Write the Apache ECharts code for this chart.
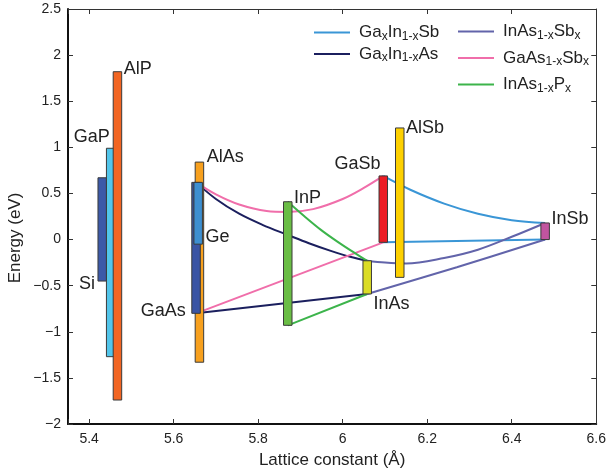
<!DOCTYPE html>
<html>
<head>
<meta charset="utf-8">
<script src="https://cdn.jsdelivr.net/npm/echarts@6/dist/echarts.min.js"></script>
<style>
html,body{margin:0;padding:0;background:#fff;}
#chart{width:609px;height:474px;}
</style>
</head>
<body>
<div id="chart"></div>
<script>
// band edges of the binary compounds (eV) vs lattice constant (A)
var materials = ['Si','GaP','AlP','AlAs','GaAs','Ge','InP','InAs','GaSb','AlSb','InSb'];
var lattice   = [5.431, 5.451, 5.467, 5.661, 5.653, 5.658, 5.870, 6.058, 6.096, 6.135, 6.479];
var vbEdge    = [-0.45, -1.27, -1.74, -1.33, -0.80, -0.05, -0.93, -0.59, -0.03, -0.41, 0.00];
var cbEdge    = [0.67, 0.99, 1.82, 0.84, 0.62, 0.62, 0.41, -0.23, 0.69, 1.21, 0.18];

// alloy lines [lattice, energy]
var gaInSbTop = [[6.096,0.69],[6.16,0.54],[6.24,0.39],[6.32,0.28],[6.40,0.21],[6.479,0.18]];
var gaInSbBot = [[6.096,-0.03],[6.479,0.00]];
var gaInAsTop = [[5.653,0.62],[5.70,0.44],[5.755,0.28],[5.81,0.16],[5.87,0.05],[5.92,-0.04],[5.97,-0.12],[6.02,-0.19],[6.058,-0.23]];
var gaInAsBot = [[5.653,-0.80],[6.058,-0.59]];
var inAsSbTop = [[6.058,-0.23],[6.10,-0.25],[6.15,-0.26],[6.24,-0.20],[6.32,-0.11],[6.40,0.03],[6.479,0.18]];
var inAsSbBot = [[6.058,-0.59],[6.27,-0.30],[6.479,0.00]];
var gaAsSbTop = [[5.653,0.62],[5.70,0.49],[5.755,0.38],[5.82,0.31],[5.87,0.30],[5.93,0.33],[6.00,0.44],[6.05,0.56],[6.096,0.69]];
var gaAsSbBot = [[5.653,-0.80],[6.096,-0.03]];
var inAsPTop  = [[5.870,0.41],[5.91,0.25],[5.95,0.10],[5.99,-0.03],[6.03,-0.15],[6.058,-0.23]];
var inAsPBot  = [[5.870,-0.93],[6.058,-0.59]];

var yTicks = [-2, -1.5, -1, -0.5, 0, 0.5, 1, 1.5, 2, 2.5];

// styles
var barColors = {Si:'#3c59a8', GaP:'#52c5ea', AlP:'#f26522', AlAs:'#f7a01e', GaAs:'#3a54a4', Ge:'#3d8fd1',
  InP:'#6abd45', InAs:'#dbdc25', GaSb:'#ec1c24', AlSb:'#fdd000', InSb:'#c1549f'};
// label placement: [anchor edge, side, dx, dy, align, verticalAlign]
var labelPos = {
  Si:   ['bot', 'left', -3, 3, 'right', 'middle'],
  GaP:  ['top', 'center', -1, -2, 'right', 'bottom'],
  AlP:  ['top', 'right', 2, -3, 'left', 'middle'],
  AlAs: ['top', 'right', 3, -5, 'left', 'middle'],
  GaAs: ['bot', 'left', -6, -2, 'right', 'middle'],
  Ge:   ['bot', 'right', 3, -7, 'left', 'middle'],
  InP:  ['top', 'right', 2, -4, 'left', 'middle'],
  InAs: ['bot', 'right', 2, 10, 'left', 'middle'],
  GaSb: ['top', 'left', 1.5, -3, 'right', 'bottom'],
  AlSb: ['top', 'right', 2, 0, 'left', 'middle'],
  InSb: ['top', 'right', 2, -4, 'left', 'middle']
};
var FONT = 'Liberation Sans, Arial, Helvetica, sans-serif';

var chart = echarts.init(document.getElementById('chart'));

var barData = materials.map(function(m, i){ return [lattice[i], vbEdge[i], cbEdge[i], m]; });

function renderBar(params, api){
  var name = materials[params.dataIndex];
  var x = api.value(0);
  var pTop = api.coord([x, api.value(2)]);
  var pBot = api.coord([x, api.value(1)]);
  var w = 8.5;
  var left = pTop[0] - w/2, right = pTop[0] + w/2;
  var lp = labelPos[name];
  var ax = lp[1] === 'left' ? left : (lp[1] === 'right' ? right : pTop[0]);
  var ay = lp[0] === 'top' ? pTop[1] : pBot[1];
  return {
    type: 'group',
    children: [
      {type:'rect', shape:{x:left, y:pTop[1], width:w, height:pBot[1]-pTop[1]},
       style:{fill:barColors[name], stroke:'#3a3a3a', lineWidth:1}},
      {type:'text', x: ax + lp[2], y: ay + lp[3],
       style:{text:name, fill:'#222', font:'18px ' + FONT, align:lp[4], verticalAlign:lp[5]}}
    ]
  };
}

function lineSeries(name, color, data, smooth){
  return {name:name, type:'line', data:data, symbol:'none', smooth:smooth ? 0.35 : false,
    color: color, lineStyle:{color:color, width:2}, z:2, silent:true};
}

var names = {
  GaInSb:'{p|}{n|Ga}{s|x}{n|In}{s|1-x}{n|Sb}',
  GaInAs:'{p|}{n|Ga}{s|x}{n|In}{s|1-x}{n|As}',
  InAsSb:'{p|}{n|InAs}{s|1-x}{n|Sb}{s|x}',
  GaAsSb:'{p|}{n|GaAs}{s|1-x}{n|Sb}{s|x}',
  InAsP:'{p|}{n|InAs}{s|1-x}{n|P}{s|x}'
};
var legendText = {
  color:'#222',
  rich:{
    p:{width:4, lineHeight:20},
    n:{fontSize:17, lineHeight:20, fontFamily:FONT, color:'#222'},
    s:{fontSize:12, lineHeight:12, fontFamily:FONT, color:'#222', verticalAlign:'bottom'}
  }
};

option = {
  animation:false,
  backgroundColor:'#fff',
  grid:{left:68, right:11, top:9, bottom:47},
  legend:[
    {data:['GaInSb','GaInAs'], orient:'vertical', left:314, top:24, itemGap:3,
     icon:'rect', itemWidth:36, itemHeight:2, padding:0,
     formatter:function(n){ return names[n]; }, textStyle:legendText},
    {data:['InAsSb','GaAsSb','InAsP'], orient:'vertical', left:458, top:23, itemGap:8,
     icon:'rect', itemWidth:36, itemHeight:2, padding:0,
     formatter:function(n){ return names[n]; }, textStyle:legendText}
  ],
  xAxis:[
    {type:'value', min:5.35, max:6.6, splitNumber:6, position:'bottom',
     name:'Lattice constant (Å)', nameLocation:'middle', nameGap:28,
     nameTextStyle:{fontSize:17, fontFamily:FONT, color:'#222'},
     axisLine:{onZero:false, lineStyle:{color:'#111', width:2}},
     axisTick:{inside:true, length:5, lineStyle:{color:'#333', width:1}},
     axisLabel:{fontSize:14, fontFamily:FONT, color:'#222', margin:8,
       formatter:function(v){ return Math.abs(v*5 - Math.round(v*5)) < 1e-6 ? String(+v.toFixed(1)) : ''; }},
     splitLine:{show:false}},
    {type:'value', min:5.35, max:6.6, splitNumber:6, position:'top',
     axisLine:{onZero:false, lineStyle:{color:'#333', width:1}},
     axisTick:{inside:true, length:5, lineStyle:{color:'#333', width:1}},
     axisLabel:{show:false}, splitLine:{show:false}}
  ],
  yAxis:[
    {type:'value', min:yTicks[0], max:yTicks[yTicks.length-1], interval:0.5,
     axisLine:{show:true, onZero:false, lineStyle:{color:'#111', width:2}},
     axisTick:{show:true, inside:true, length:5, lineStyle:{color:'#333', width:1}},
     axisLabel:{fontSize:14, fontFamily:FONT, color:'#222', margin:7,
       formatter:function(v){ return String(v).replace('-', '\u2212'); }},
     splitLine:{show:false}},
    {type:'value', min:yTicks[0], max:yTicks[yTicks.length-1], interval:0.5, position:'right',
     axisLine:{show:true, onZero:false, lineStyle:{color:'#333', width:1}},
     axisTick:{show:true, inside:true, length:5, lineStyle:{color:'#333', width:1}},
     axisLabel:{show:false}, splitLine:{show:false}}
  ],
  graphic:[
    {type:'text', x:15, y:238, rotation:Math.PI/2,
     style:{text:'Energy (eV)', font:'17px ' + FONT, fill:'#222', align:'center', verticalAlign:'middle'}}
  ],
  series:[
    lineSeries('GaInSb', '#3a96d6', gaInSbTop, true),
    lineSeries('GaInSb', '#3a96d6', gaInSbBot, false),
    lineSeries('GaInAs', '#1b1f5e', gaInAsTop, true),
    lineSeries('GaInAs', '#1b1f5e', gaInAsBot, false),
    lineSeries('InAsSb', '#6264aa', inAsSbTop, true),
    lineSeries('InAsSb', '#6264aa', inAsSbBot, true),
    lineSeries('GaAsSb', '#f06eaa', gaAsSbTop, true),
    lineSeries('GaAsSb', '#f06eaa', gaAsSbBot, false),
    lineSeries('InAsP', '#3cb44b', inAsPTop, true),
    lineSeries('InAsP', '#3cb44b', inAsPBot, false),
    {type:'custom', renderItem:renderBar, data:barData, z:5, silent:true,
     encode:{x:0, y:[1,2]}}
  ]
};
chart.setOption(option);
</script>
</body>
</html>
